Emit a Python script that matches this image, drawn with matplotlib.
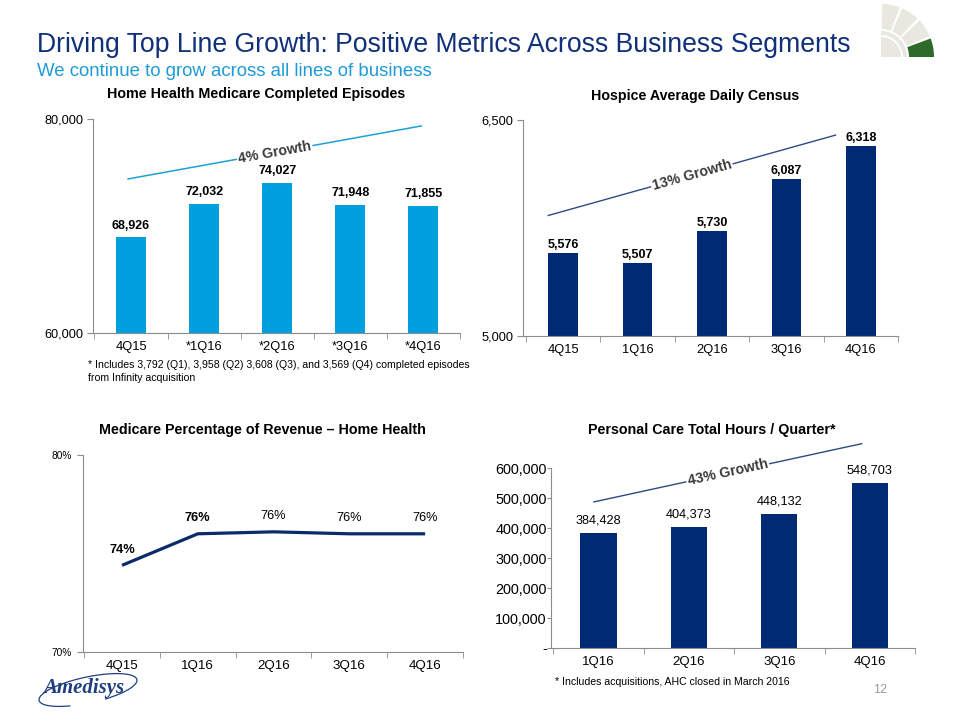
import matplotlib
matplotlib.use("Agg")
import matplotlib.pyplot as plt
from matplotlib.patches import Wedge, Arc
from matplotlib.ticker import FixedLocator, FixedFormatter

plt.rcParams['font.family'] = ['Liberation Sans', 'DejaVu Sans']

# ---------------- data ----------------
hh_quarters = ["4Q15", "*1Q16", "*2Q16", "*3Q16", "*4Q16"]
hh_episodes = [68926, 72032, 74027, 71948, 71855]

hospice_quarters = ["4Q15", "1Q16", "2Q16", "3Q16", "4Q16"]
hospice_adc = [5576, 5507, 5730, 6087, 6318]

medicare_quarters = ["4Q15", "1Q16", "2Q16", "3Q16", "4Q16"]
medicare_pct = [74.4, 76.0, 76.1, 76.0, 76.0]
medicare_labels = ["74%", "76%", "76%", "76%", "76%"]

pc_quarters = ["1Q16", "2Q16", "3Q16", "4Q16"]
pc_hours = [384428, 404373, 448132, 548703]
pc_yticks = [0, 100000, 200000, 300000, 400000, 500000, 600000]
pc_yticklabels = ["-", "100,000", "200,000", "300,000", "400,000", "500,000", "600,000"]

# growth annotations (data coordinates): (x0, y0, x1, y1, text)
hh_growth = (-0.04, 74400, 3.97, 79350, "4% Growth")
hospice_growth = (-0.2, 5837, 3.66, 6395, "13% Growth")
pc_growth = (-0.05, 487000, 2.91, 681000, "43% Growth")

# ---------------- styling ----------------
W, H = 960, 720
LIGHT_BLUE = "#00A0DF"
NAVY = "#002A74"
LINE_NAVY = "#0B2A6A"
GROWTH_NAVY = "#2C4A86"
AXIS_GRAY = "#8C8C8C"
TITLE_NAVY = "#10307A"
SUB_BLUE = "#1E9BD7"

fig = plt.figure(figsize=(9.6, 7.2), dpi=100)


def px_axes(left, top, right, bottom):
    return fig.add_axes([left / W, 1 - bottom / H, (right - left) / W, (bottom - top) / H])


def ftext(x, y, s, **kw):
    fig.text(x / W, 1 - y / H, s, **kw)


def style_axes(ax, n, xlabels, xlim, xsize=9.3, ysize=9.2, ypad=3):
    ax.set_xlim(*xlim)
    for sp in ["top", "right"]:
        ax.spines[sp].set_visible(False)
    for sp in ["left", "bottom"]:
        ax.spines[sp].set_color(AXIS_GRAY)
        ax.spines[sp].set_linewidth(0.8)
    ax.xaxis.set_major_locator(FixedLocator(list(range(n))))
    ax.xaxis.set_major_formatter(FixedFormatter(xlabels))
    ax.xaxis.set_minor_locator(FixedLocator([i + 0.5 for i in range(-1, n)]))
    ax.tick_params(axis="x", which="major", length=0, labelsize=xsize, pad=6, colors="black")
    ax.tick_params(axis="x", which="minor", length=4, color=AXIS_GRAY, direction="out")
    ax.tick_params(axis="y", length=4, color=AXIS_GRAY, labelsize=ysize, direction="out", pad=ypad)
    ax.set_facecolor("none")


def growth(ax, g, color, rot, lw=1.0):
    x0, y0, x1, y1, txt = g
    ax.plot([x0, x1], [y0, y1], color=color, lw=lw, clip_on=False, zorder=3)
    xm, ym = (x0 + x1) / 2, (y0 + y1) / 2
    ax.text(xm, ym, txt, rotation=rot, rotation_mode="anchor", ha="center", va="center",
            fontsize=10.2, fontweight="bold", color="#3A3A3A", zorder=4, clip_on=False,
            bbox=dict(facecolor="white", edgecolor="none", pad=1.0))


# ---------- Chart 1: Home Health Medicare Completed Episodes ----------
ax1 = px_axes(93, 119, 460, 333)
x = list(range(len(hh_quarters)))
ax1.bar(x, hh_episodes, width=0.41, color=LIGHT_BLUE, zorder=2)
ax1.set_ylim(60000, 80000)
ax1.yaxis.set_major_locator(FixedLocator([60000, 80000]))
ax1.yaxis.set_major_formatter(FixedFormatter(["60,000", "80,000"]))
style_axes(ax1, len(hh_quarters), hh_quarters, (-0.52, 4.5))
for xi, v in zip(x, hh_episodes):
    ax1.annotate(f"{v:,}", (xi, v), xytext=(0, 8.6), textcoords="offset points",
                 ha="center", va="center", fontsize=9, fontweight="bold")
growth(ax1, hh_growth, "#1DA1D6", 10.1, lw=1.1)

# ---------- Chart 2: Hospice Average Daily Census ----------
ax2 = px_axes(523, 120, 898, 336)
x = list(range(len(hospice_quarters)))
ax2.bar(x, hospice_adc, width=0.40, color=NAVY, zorder=2)
ax2.set_ylim(5000, 6500)
ax2.yaxis.set_major_locator(FixedLocator([5000, 6500]))
ax2.yaxis.set_major_formatter(FixedFormatter(["5,000", "6,500"]))
style_axes(ax2, len(hospice_quarters), hospice_quarters, (-0.54, 4.5))
for xi, v in zip(x, hospice_adc):
    ax2.annotate(f"{v:,}", (xi, v), xytext=(0, 6), textcoords="offset points",
                 ha="center", va="center", fontsize=9, fontweight="bold")
growth(ax2, hospice_growth, GROWTH_NAVY, 15.6)

# ---------- Chart 3: Medicare Percentage of Revenue ----------
ax3 = px_axes(83, 455, 463, 652)
x = list(range(len(medicare_quarters)))
ax3.plot(x, medicare_pct, color=LINE_NAVY, lw=2.3, solid_capstyle="butt", zorder=3)
ax3.set_ylim(70, 80)
ax3.yaxis.set_major_locator(FixedLocator([70, 80]))
ax3.yaxis.set_major_formatter(FixedFormatter(["70%", "80%"]))
style_axes(ax3, len(medicare_quarters), medicare_quarters, (-0.515, 4.5), xsize=9.6, ysize=7.3,
           ypad=4)
for i, (xi, v, lab) in enumerate(zip(x, medicare_pct, medicare_labels)):
    ax3.annotate(lab, (xi, v), xytext=(0, 11.2), textcoords="offset points",
                 ha="center", va="center", fontsize=9.2,
                 fontweight="bold" if i < 2 else "normal")

# ---------- Chart 4: Personal Care Total Hours ----------
ax4 = px_axes(551, 468, 915, 648)
x = list(range(len(pc_quarters)))
ax4.bar(x, pc_hours, width=0.40, color=NAVY, zorder=2)
ax4.set_ylim(0, 600000)
ax4.yaxis.set_major_locator(FixedLocator(pc_yticks))
ax4.yaxis.set_major_formatter(FixedFormatter(pc_yticklabels))
style_axes(ax4, len(pc_quarters), pc_quarters, (-0.525, 3.5), xsize=9.5, ysize=10.4, ypad=0)
ax4.tick_params(axis="y", length=3)
for xi, v in zip(x, pc_hours):
    ax4.annotate(f"{v:,}", (xi, v), xytext=(0, 9), textcoords="offset points",
                 ha="center", va="center", fontsize=9.2)
growth(ax4, pc_growth, GROWTH_NAVY, 12.3)

# ---------------- titles & text ----------------
ftext(37, 45, "Driving Top Line Growth: Positive Metrics Across Business Segments",
      fontsize=19.2, color=TITLE_NAVY, va="center", ha="left")
ftext(37, 72, "We continue to grow across all lines of business",
      fontsize=13.4, color=SUB_BLUE, va="center", ha="left")
ftext(256, 94, "Home Health Medicare Completed Episodes", fontsize=10.3,
      fontweight="bold", ha="center", va="center")
ftext(695, 96, "Hospice Average Daily Census", fontsize=10.3,
      fontweight="bold", ha="center", va="center")
ftext(262, 430, "Medicare Percentage of Revenue \u2013 Home Health", fontsize=10.3,
      fontweight="bold", ha="center", va="center")
ftext(712, 430, "Personal Care Total Hours / Quarter*", fontsize=10.3,
      fontweight="bold", ha="center", va="center")
ftext(88, 365, "* Includes 3,792 (Q1), 3,958 (Q2) 3,608 (Q3), and 3,569 (Q4) completed episodes",
      fontsize=7.6, ha="left", va="center")
ftext(88, 378, "from Infinity acquisition", fontsize=7.6, ha="left", va="center")
ftext(555, 682, "* Includes acquisitions, AHC closed in March 2016", fontsize=7.6,
      ha="left", va="center")
ftext(880, 690, "12", fontsize=9, color="#9A9A9A", ha="center", va="center")

# ---------------- decorations (logos) ----------------
deco = fig.add_axes([0, 0, 1, 1], zorder=-1)
deco.set_xlim(0, W)
deco.set_ylim(H, 0)
deco.axis("off")
cx, cy = 881, 57
LG = "#E8E8E0"
deco.add_patch(Wedge((cx, cy), 20, -90, 0, facecolor=LG, edgecolor="none"))
deco.add_patch(Wedge((cx, cy), 26, -90, 0, width=4, facecolor=LG, edgecolor="none"))
seg_edges = [0, -22, -45, -68, -90]
for k in range(4):
    col = "#2E6B2A" if k == 0 else LG
    deco.add_patch(Wedge((cx, cy), 53, seg_edges[k + 1] + 1.5, seg_edges[k] - (0 if k == 0 else 1.5),
                         width=25, facecolor=col, edgecolor="none"))

deco.text(84, 688, "Amedisys", fontsize=15, fontweight="bold", fontstyle="italic",
          family=["Liberation Serif", "DejaVu Serif"], color="#1F3F80", ha="center", va="center")
deco.add_patch(Arc((88, 690), 100, 26, angle=-12, theta1=150, theta2=400,
                   color="#1F3F80", lw=0.9))

fig.savefig("out.png", dpi=100)
